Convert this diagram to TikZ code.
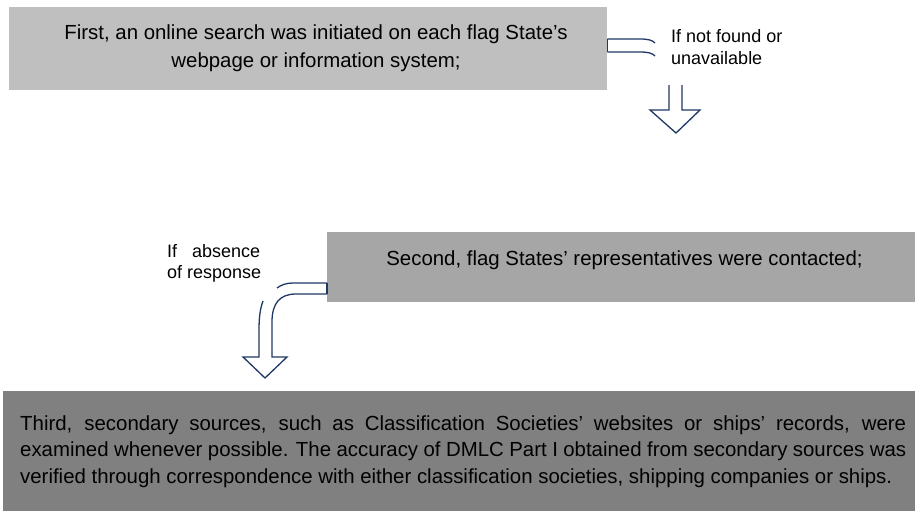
\documentclass[tikz,border=0pt]{standalone}
\usepackage{fontspec}
\setmainfont{Liberation Sans}
\definecolor{boxA}{HTML}{BFBFBF}
\definecolor{boxB}{HTML}{A6A6A6}
\definecolor{boxC}{HTML}{808080}
\definecolor{arrowc}{HTML}{1F3864}
\begin{document}
\begin{tikzpicture}[x=1pt,y=-1pt,
  box/.style={rectangle, inner sep=0pt, anchor=north west},
  btxt/.style={inner sep=0pt, font=\fontsize{20.4}{28}\selectfont},
  lbl/.style={anchor=base west, inner sep=0pt, align=left, font=\fontsize{18}{22}\selectfont},
  arr/.style={draw=arrowc, line width=1.3pt, line join=miter}]
\useasboundingbox (0,0) rectangle (915,511);
\node[box, fill=boxA, minimum width=598pt, minimum height=83pt] (b1) at (9,7) {};
\node[box, fill=boxB, minimum width=588pt, minimum height=70pt] (b2) at (327,232) {};
\node[box, fill=boxC, minimum width=912pt, minimum height=120pt] (b3) at (3,391) {};
\node[btxt, align=center, anchor=base] (t1) at (316,67)
  {First, an online search was initiated on each flag State’s\\webpage or information system;};
\node[btxt, anchor=base] (t2) at (624.5,265)
  {Second, flag States’ representatives were contacted;};
\node[btxt, font=\fontsize{20.4}{26.7}\selectfont, text width=886pt, align=justify, anchor=base west] (t3) at (20,430)
  {Third, secondary sources, such as Classification Societies’ websites or ships’ records, were\linebreak examined whenever possible. The accuracy of DMLC Part I obtained from secondary sources was\linebreak verified through correspondence with either classification societies, shipping companies or ships.};
\node[lbl] (l1) at (671,65) {If not found or\\unavailable};
\node[lbl, font=\fontsize{18}{21}\selectfont] (l2) at (167,278) {If \ \ absence\\of response};
% first connector: band leaving box 1
\coordinate (a1t) at (b1.north east |- 0,39);
\coordinate (a1b) at (b1.north east |- 0,52);
\draw[arr] (a1t) -- (a1b);
\draw[arr] (a1t) -- (640,39) .. controls (648,39) and (652,40) .. (655,43);
\draw[arr] (a1b) -- (640,52) .. controls (648,52) and (652,53) .. (655,56);
% first down arrow
\coordinate (d1) at (676,133);
\draw[arr] (669,85) -- (669,110) -- (650,110) -- (d1) -- (700,110) -- (682,110) -- (682,85);
% second connector: bent arrow from box 2
\coordinate (a2t) at (b2.north west |- 0,283);
\coordinate (a2b) at (b2.north west |- 0,294);
\coordinate (d2) at (265,378);
\draw[arr] (a2t) -- (a2b);
\draw[arr] (a2t) -- (293,283) .. controls (286,283) and (281,285) .. (277,288);
\draw[arr] (263,301) .. controls (260,309) and (259,318) .. (259,330) -- (259,357) -- (243,357)
  -- (d2) -- (287,357) -- (272,357) -- (272,322) .. controls (272,303) and (280,294) .. (296,294) -- (a2b);
\end{tikzpicture}
\end{document}
